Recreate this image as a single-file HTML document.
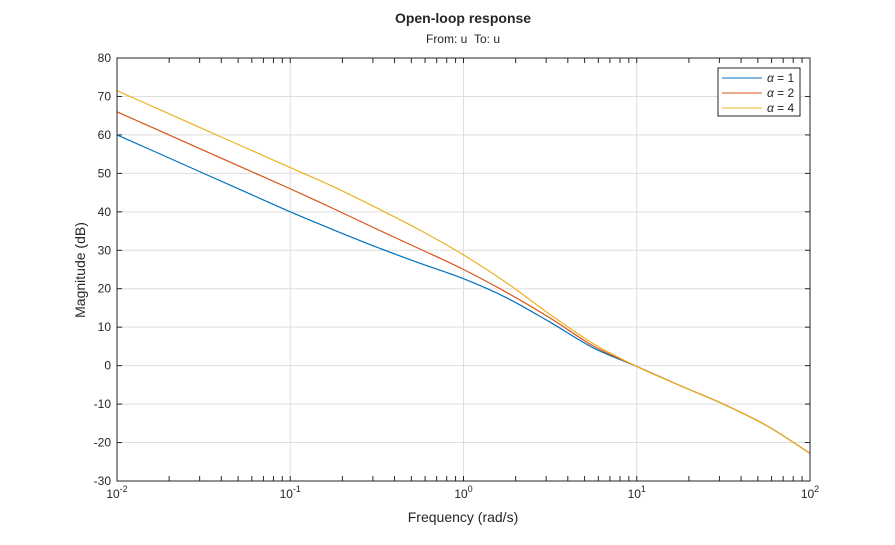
<!DOCTYPE html>
<html><head><meta charset="utf-8"><style>
body{margin:0;background:#fff;font-family:"Liberation Sans",sans-serif}
</style></head><body>
<svg id="c" width="895" height="540" xmlns="http://www.w3.org/2000/svg" font-family="Liberation Sans, sans-serif">
<rect width="895" height="540" fill="#fff"/>
</svg>
<script>
const freqs=[0.01,0.0178,0.0316,0.0562,0.1,0.178,0.316,0.562,1,1.78,3.16,5.62,10,17.8,31.6,56.2,100];
const magA1=[60,55,50,45,40,35.3,30.8,26.6,22.6,17.6,11.3,4.6,-0.2,-5.2,-10,-15.6,-22.8];
const magA2=[66,61,56,51,46,40.8,35.5,30.3,25,19,12.4,5.1,-0.2,-5.2,-10,-15.6,-22.8];
const magA4=[71.5,66.5,61.5,56.5,51.5,46.5,41,35.2,28.8,21.5,13.3,5.7,-0.2,-5.2,-10,-15.6,-22.8];
const yTicks=[80,70,60,50,40,30,20,10,0,-10,-20,-30];
const xTickExp=[-2,-1,0,1,2];
const NS="http://www.w3.org/2000/svg";
const svg=document.getElementById('c');
const L=117,R=810,T=58,B=481;
const xs=f=>L+(Math.log10(f)+2)/4*(R-L);
const ys=v=>T+(80-v)/110*(B-T);
function el(t,a,p){const e=document.createElementNS(NS,t);for(const k in a)e.setAttribute(k,a[k]);(p||svg).appendChild(e);return e;}
const g=el('g',{});


for(let d=-2;d<2;d++)for(let m=1;m<=10;m++){const f=m*Math.pow(10,d);if(m===1&&d>-2)continue;const x=xs(f);
 if(m===1||m===10)el('line',{x1:x,x2:x,y1:T,y2:B,stroke:'#dedede','stroke-width':1},g);
 el('line',{x1:x,x2:x,y1:B,y2:B-5,stroke:'#262626'},g);
 el('line',{x1:x,x2:x,y1:T,y2:T+5,stroke:'#262626'},g);}
yTicks.forEach(v=>{const y=ys(v);
 el('line',{x1:L,x2:R,y1:y,y2:y,stroke:'#dedede'},g);
 el('line',{x1:L,x2:L+5,y1:y,y2:y,stroke:'#262626'},g);
 el('line',{x1:R,x2:R-5,y1:y,y2:y,stroke:'#262626'},g);
 const t=el('text',{x:L-6,y:y+4,'text-anchor':'end','font-size':12,fill:'#262626'});t.textContent=v;
 
 });
xTickExp.forEach(e=>{const x=xs(Math.pow(10,e));
 const t=el('text',{x:x,y:B+17,'text-anchor':'middle','font-size':12,fill:'#262626'});
 t.innerHTML='10<tspan dy="-6" font-size="9">'+e+'</tspan>';
 
 });
const series=[[magA1,'#0072bd','series-alpha-1'],[magA2,'#d95319','series-alpha-2'],[magA4,'#edb120','series-alpha-4']];
series.forEach(([vals,col,name])=>{
 const pts=freqs.map((f,i)=>[xs(f),ys(vals[i])]);
 let d='M'+pts[0][0]+','+pts[0][1];
 for(let i=0;i<pts.length-1;i++){const p0=pts[i-1]||pts[i],p1=pts[i],p2=pts[i+1],p3=pts[i+2]||p2;
  d+=' C'+(p1[0]+(p2[0]-p0[0])/6)+','+(p1[1]+(p2[1]-p0[1])/6)+' '+(p2[0]-(p3[0]-p1[0])/6)+','+(p2[1]-(p3[1]-p1[1])/6)+' '+p2[0]+','+p2[1];}
 const p=el('path',{d:d,fill:'none',stroke:col,'stroke-width':1.2});
 
 });
el('rect',{x:L,y:T,width:R-L,height:B-T,fill:'none',stroke:'#262626'});
let t=el('text',{x:463,y:23,'text-anchor':'middle','font-size':14,'font-weight':'bold',fill:'#262626'});t.textContent='Open-loop response';


t=el('text',{x:463,y:43,'text-anchor':'middle','font-size':12,fill:'#262626'});t.textContent='From: u\u00a0\u00a0To: u';


t=el('text',{x:463,y:522,'text-anchor':'middle','font-size':14,fill:'#262626'});t.textContent='Frequency (rad/s)';


t=el('text',{x:0,y:0,'text-anchor':'middle','font-size':14,fill:'#262626',transform:'translate(85,270) rotate(-90)'});t.textContent='Magnitude (dB)';


const lg=el('g',{});


el('rect',{x:718,y:68,width:82,height:48,fill:'#fff',stroke:'#262626'},lg);
const labels=['1','2','4'];
series.forEach(([v,col],i)=>{const y=78+i*15;
 el('line',{x1:722,x2:762,y1:y,y2:y,stroke:col},lg);
 const tt=el('text',{x:767,y:y+4,'font-size':12,fill:'#262626'},lg);
 tt.innerHTML='<tspan font-style="italic">α</tspan> = '+labels[i];
 
 });
</script>
</body></html>
